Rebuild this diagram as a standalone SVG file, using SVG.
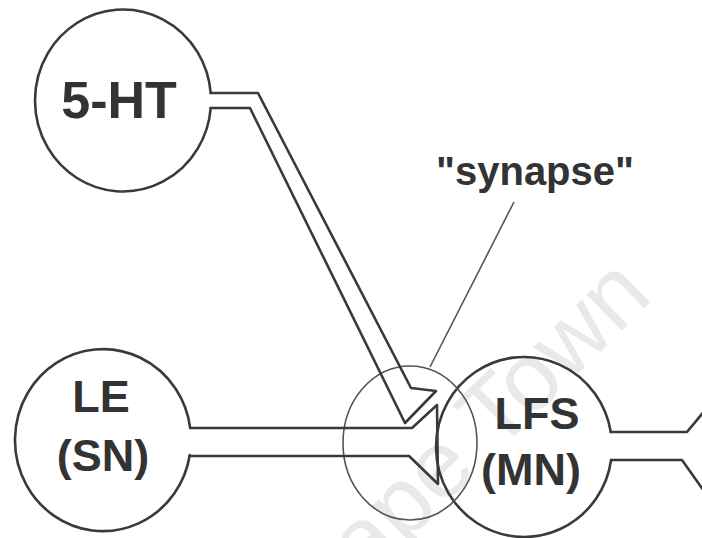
<svg xmlns="http://www.w3.org/2000/svg" width="702" height="538" viewBox="0 0 702 538">
  <style>
    .cell { fill: none; stroke: #3a3a3a; stroke-width: 2.6; stroke-linejoin: round; stroke-linecap: round; }
    .label { font-family: "Liberation Sans", Arial, sans-serif; font-weight: bold; fill: #333333; text-anchor: middle; }
    .thin { fill: none; stroke: #555555; stroke-width: 1.6; }
    .mark { font-family: "Liberation Sans", Arial, sans-serif; font-size: 95px; fill: #e9e9e9; }
  </style>
  <rect width="702" height="538" fill="#ffffff"/>

  <!-- faint background watermark -->
  <text class="mark" transform="translate(317,630) rotate(-44.5)">Cape Town</text>

  <!-- 5-HT neuron: soma open where the axon leaves -->
  <g id="ht5">
    <path class="cell" d="M 210.7 108 A 88 91 0 1 1 210.7 93"/>
    <text class="label" x="119" y="118" font-size="52">5-HT</text>
  </g>

  <!-- LE sensory neuron -->
  <g id="le">
    <path class="cell" d="M 189.8 455 A 88 91 0 1 1 190.2 428"/>
    <text class="label" x="101" y="412" font-size="45">LE</text>
    <text class="label" x="103" y="471" font-size="45">(SN)</text>
  </g>

  <!-- LFS motor neuron -->
  <g id="lfs">
    <path class="cell" d="M 610.8 432 A 88 90 0 1 0 611.1 460"/>
    <text class="label" x="537" y="429" font-size="45">LFS</text>
    <text class="label" x="531" y="485" font-size="45">(MN)</text>
  </g>

  <!-- synapse region and its label -->
  <g id="synapse">
    <ellipse class="thin" cx="410" cy="443" rx="67" ry="77"/>
    <text class="label" x="535" y="185" font-size="40">"synapse"</text>
  </g>

  <g id="connectors">
    <!-- 5-HT axon ending in an arrow-shaped terminal -->
    <path class="cell" d="M 210.7 93 H 258 L 411 388 L 436 391 L 405 423 L 250 108 H 210.7"/>
    <!-- LE axon with flared terminal -->
    <path class="cell" d="M 190.2 428 H 412 L 437 405 L 438 484 L 409 456 H 189.8"/>
    <!-- LFS axon leaving to the right -->
    <path class="cell" d="M 610.8 432 H 687 L 706 409"/>
    <path class="cell" d="M 611.1 460 H 682 L 706 494"/>
    <!-- pointer from the label to the synapse -->
    <path class="thin" d="M 514 202 L 430 367"/>
  </g>
</svg>
